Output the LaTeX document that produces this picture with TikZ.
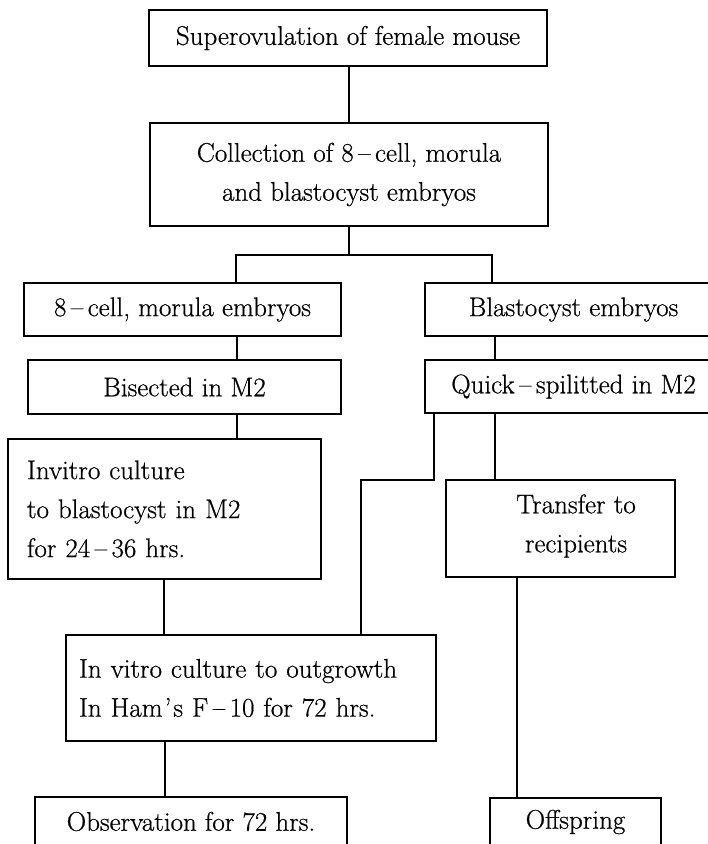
\documentclass[tikz,border=0pt]{standalone}
\usepackage{fontspec}
\setmainfont{Latin Modern Roman}[FakeBold=0.6]
\begin{document}
\begin{tikzpicture}[x=1pt,y=-1pt,
  box/.style={draw, line width=1.3pt, inner sep=0pt, outer sep=0pt, align=center},
  lbox/.style={draw, line width=1.3pt, inner ysep=0pt, outer sep=0pt, align=left},
  txt/.style={inner sep=0pt, align=center},
  conn/.style={line width=1.3pt, line join=miter},
  font=\fontsize{27pt}{39pt}\selectfont]
\useasboundingbox (0,0) rectangle (708,844);
\clip (0,0) rectangle (708,844);

\node[box, minimum width=398pt, minimum height=56pt] (b1) at (348,38) {Superovulation of female mouse};
\node[box, minimum width=398pt, minimum height=103pt] (b2) at (349,174.5) {Collection of 8\,--\,cell, morula\\and blastocyst embryos};
\node[box, minimum width=317pt, minimum height=53pt] (b3) at (182.5,309.5) {8\,--\,cell, morula embryos};
\node[box, minimum width=297pt, minimum height=53pt] (b4) at (573.5,309.5) {Blastocyst embryos};
\node[box, minimum width=313pt, minimum height=54pt] (b5) at (184.5,387) {Bisected in M2};
\node[box, minimum width=297pt, minimum height=53pt] (b6) at (573.5,386.5) {Quick\,--\,spilitted in M2};
\node[lbox, inner xsep=19pt, text width=275pt, minimum height=140pt] (b7) at (164.5,509) {Invitro culture\\to blastocyst in M2\\for 24\,--\,36 hrs.};
\node[lbox, inner xsep=13pt, text width=344pt, minimum height=106pt] (b8) at (251,688) {In vitro culture to outgrowth\\In Ham\kern2pt'\kern2pt s F\,--\,10 for 72 hrs.};
\node[box, minimum width=312pt, minimum height=49pt] (b9) at (191,821.5) {Observation for 72 hrs.};
\node[box, minimum width=229pt, minimum height=97pt] (b10) at (560.5,528.5) {};
\node[txt] (t10) at (576,526) {Transfer to\\recipients};
\node[box, minimum width=171pt, minimum height=48pt] (b11) at (575.5,822) {Offspring};

\coordinate (j1) at (349,255);
\coordinate (jl) at (236,255);
\coordinate (jr) at (492,255);
\coordinate (xa) at (237,0);
\coordinate (xb) at (495,0);
\coordinate (xc) at (164,0);
\coordinate (xd) at (165,0);
\coordinate (xe) at (517,0);
\coordinate (k1) at (434,480);
\coordinate (k2) at (361,480);

\draw[conn] (b1.south -| j1) -- (b2.north -| j1);
\draw[conn] (b2.south -| j1) -- (j1);
\draw[conn] (jl |- b3.north) -- (jl) -- (jr) -- (jr |- b4.north);
\draw[conn] (b3.south -| xa) -- (b5.north -| xa);
\draw[conn] (b4.south -| xb) -- (b6.north -| xb);
\draw[conn] (b5.south -| xa) -- (b7.north -| xa);
\draw[conn] (b6.south -| k1) -- (k1) -- (k2) -- (k2 |- b8.north);
\draw[conn] (b6.south -| xb) -- (b10.north -| xb);
\draw[conn] (b7.south -| xc) -- (b8.north -| xc);
\draw[conn] (b8.south -| xd) -- (b9.north -| xd);
\draw[conn] (b10.south -| xe) -- (b11.north -| xe);
\end{tikzpicture}
\end{document}
